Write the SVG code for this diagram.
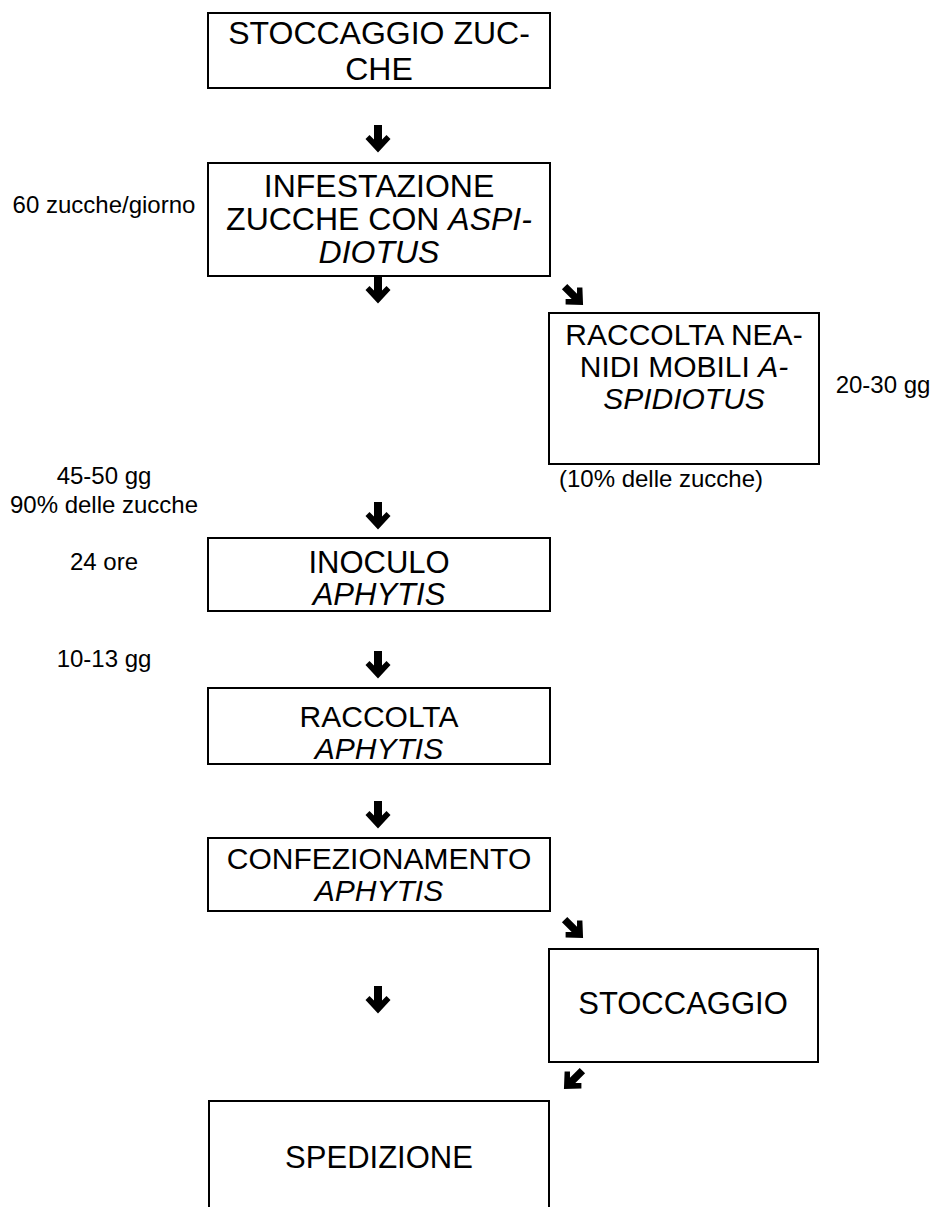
<svg xmlns="http://www.w3.org/2000/svg" width="933" height="1207" viewBox="0 0 933 1207">
<style>
.box{fill:#fff;stroke:#000;stroke-width:2}
.t{font-family:"Liberation Sans",Arial,sans-serif;font-size:30px;fill:#000;text-anchor:middle}
.s{font-family:"Liberation Sans",Arial,sans-serif;font-size:24px;fill:#000;text-anchor:middle}
.i{font-style:italic}
.arr{fill:#000}
</style>
<defs>
<path id="ad" class="arr" d="M -4,-14 H 4 V 0.5 L 8.5,-4 L 12.5,0 L 0,13.5 L -12.5,0 L -8.5,-4 L -4,0.5 Z"/>
</defs>
<rect width="933" height="1207" fill="#fff"/>
<g id="connectors">
<use href="#ad" transform="translate(378,139)"/>
<use href="#ad" transform="translate(378,290)"/>
<use href="#ad" transform="translate(574,296) rotate(-45) scale(0.95)"/>
<use href="#ad" transform="translate(378,516)"/>
<use href="#ad" transform="translate(378,665)"/>
<use href="#ad" transform="translate(378,815)"/>
<use href="#ad" transform="translate(574,929) rotate(-45) scale(0.95)"/>
<use href="#ad" transform="translate(378,1000)"/>
<use href="#ad" transform="translate(573,1080) rotate(45) scale(0.95)"/>
</g>
<g id="n1">
<rect class="box" x="208" y="13" width="342" height="75"/>
<text class="t" x="379" y="44" style="font-size:32px">STOCCAGGIO ZUC-</text>
<text class="t" x="379" y="80" style="font-size:32px">CHE</text>
</g>
<g id="n2">
<rect class="box" x="208" y="163" width="342" height="113"/>
<text class="t" x="379" y="197" style="font-size:32px">INFESTAZIONE</text>
<text class="t" x="379" y="230" style="font-size:32px">ZUCCHE CON <tspan class="i">ASPI-</tspan></text>
<text class="t i" x="379" y="263" style="font-size:32px">DIOTUS</text>
</g>
<g id="n3">
<rect class="box" x="549" y="313" width="270" height="151"/>
<text class="t" x="684" y="345" style="font-size:30px">RACCOLTA NEA-</text>
<text class="t" x="684" y="377" style="font-size:30px">NIDI MOBILI <tspan class="i">A-</tspan></text>
<text class="t i" x="684" y="409" style="font-size:30px">SPIDIOTUS</text>
</g>
<g id="n4">
<rect class="box" x="208" y="538" width="342" height="73"/>
<text class="t" x="379" y="573" style="font-size:31px">INOCULO</text>
<text class="t i" x="379" y="605" style="font-size:31px">APHYTIS</text>
</g>
<g id="n5">
<rect class="box" x="208" y="688" width="342" height="76"/>
<text class="t" x="379" y="727">RACCOLTA</text>
<text class="t i" x="379" y="759">APHYTIS</text>
</g>
<g id="n6">
<rect class="box" x="208" y="838" width="342" height="73"/>
<text class="t" x="379" y="869">CONFEZIONAMENTO</text>
<text class="t i" x="379" y="901">APHYTIS</text>
</g>
<g id="n7">
<rect class="box" x="549" y="949" width="269" height="113"/>
<text class="t" x="683" y="1014" style="font-size:31px">STOCCAGGIO</text>
</g>
<g id="n8">
<path class="box" d="M 209,1210 V 1101 H 549 V 1210"/>
<text class="t" x="379" y="1168" style="font-size:31px">SPEDIZIONE</text>
</g>
<g id="labels">
<text class="s" x="104" y="213">60 zucche/giorno</text>
<text class="s" x="883" y="393">20-30 gg</text>
<text class="s" x="661" y="487">(10% delle zucche)</text>
<text class="s" x="104" y="484">45-50 gg</text>
<text class="s" x="104" y="513">90% delle zucche</text>
<text class="s" x="104" y="570">24 ore</text>
<text class="s" x="104" y="667">10-13 gg</text>
</g>
</svg>
